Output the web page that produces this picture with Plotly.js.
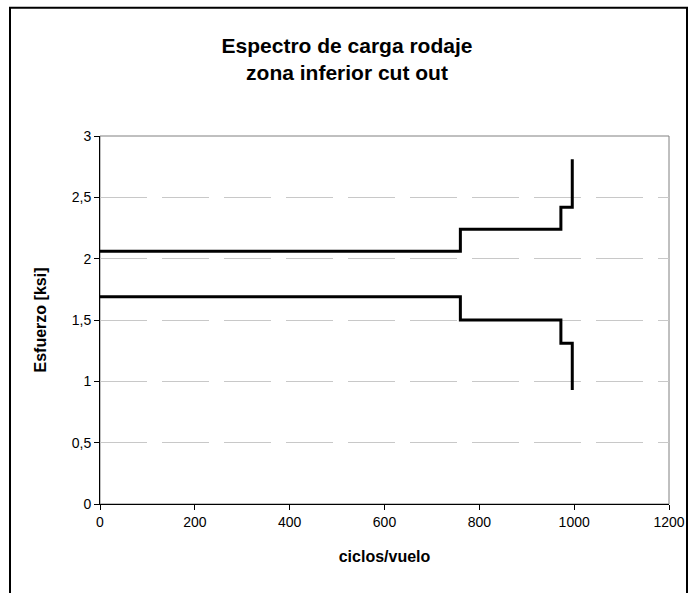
<!DOCTYPE html>
<html>
<head>
<meta charset="utf-8">
<script src="https://cdn.plot.ly/plotly-3.0.1.min.js"></script>
<style>
html,body{margin:0;padding:0;background:#fff;}
#chart{width:694px;height:593px;}
</style>
</head>
<body>
<div id="chart"></div>
<script>
// Data
const upperX = [0, 760, 760, 972, 972, 996, 996];
const upperY = [2.06, 2.06, 2.24, 2.24, 2.42, 2.42, 2.81];
const lowerX = [0, 760, 760, 972, 972, 996, 996];
const lowerY = [1.69, 1.69, 1.50, 1.50, 1.31, 1.31, 0.93];

const xTickVals = [0, 200, 400, 600, 800, 1000, 1200];
const xTickText = ["0", "200", "400", "600", "800", "1000", "1200"];
const yTickVals = [0, 0.5, 1, 1.5, 2, 2.5, 3];
const yTickText = ["0", "0,5", "1", "1,5", "2", "2,5", "3"];

const titleText = "Espectro de carga rodaje<br>zona inferior cut out";
const xTitle = "ciclos/vuelo";
const yTitle = "Esfuerzo [ksi]";

const font = "Liberation Sans, Arial, sans-serif";

const traces = [
  {x: upperX, y: upperY, mode: "lines", line: {color: "#000", width: 3}, showlegend: false, hoverinfo: "x+y"},
  {x: lowerX, y: lowerY, mode: "lines", line: {color: "#000", width: 3}, showlegend: false, hoverinfo: "x+y"}
];

const L = 100, R = 669, T = 136, B = 504.5;
const pw = R - L, ph = B - T;
const px = v => (v - L) / pw;
const py = v => (B - v) / ph;

const layout = {
  width: 694, height: 593,
  margin: {l: L, r: 694 - R, t: T, b: 593 - B},
  paper_bgcolor: "#fff", plot_bgcolor: "#fff",
  font: {family: font, color: "#000", size: 14},
  title: {text: "<b>" + titleText + "</b>", font: {family: font, size: 21, color: "#000"},
          x: 0.5, xref: "container", xanchor: "center", y: 1 - 53/593, yanchor: "middle"},
  xaxis: {
    range: [0, 1200], tickvals: xTickVals, ticktext: xTickText,
    showline: true, linecolor: "#000", linewidth: 1,
    ticks: "outside", ticklen: 5, tickcolor: "#000",
    showgrid: false, zeroline: false,
    tickfont: {size: 14},
    title: {text: "<b>" + xTitle + "</b>", font: {size: 16}, standoff: 22}
  },
  yaxis: {
    range: [0, 3], tickvals: yTickVals, ticktext: yTickText,
    showline: true, linecolor: "#000", linewidth: 1,
    ticks: "outside", ticklen: 5, tickcolor: "#000",
    showgrid: true, gridcolor: "#c8c8c8", gridwidth: 1, griddash: "47px,15px",
    zeroline: false,
    tickfont: {size: 14},
    title: {text: "<b>" + yTitle + "</b>", font: {size: 16}, standoff: 21}
  },
  shapes: [
    {type: "rect", xref: "paper", yref: "paper", x0: 0, x1: 1, y0: 0, y1: 1,
     line: {color: "#808080", width: 1}, layer: "below"},
    {type: "rect", xref: "paper", yref: "paper", x0: px(10), x1: px(687), y0: py(620), y1: py(7.5),
     line: {color: "#000", width: 2}, layer: "above"}
  ]
};

Plotly.newPlot("chart", traces, layout, {displayModeBar: false, staticPlot: true});
</script>
</body>
</html>
